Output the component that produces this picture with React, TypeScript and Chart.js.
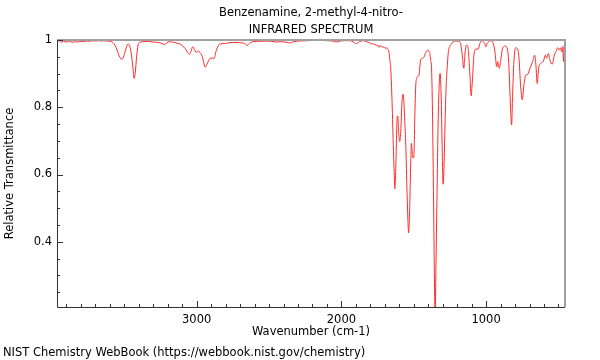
import React, { useEffect, useRef } from "react";
import { Chart, registerables } from "chart.js";

Chart.register(...registerables);

const TITLE_LINES = ["Benzenamine, 2-methyl-4-nitro-", "INFRARED SPECTRUM"];
const X_LABEL = "Wavenumber (cm-1)";
const Y_LABEL = "Relative Transmittance";
const FOOTER = "NIST Chemistry WebBook (https://webbook.nist.gov/chemistry)";

const X_MIN = 455;
const X_MAX = 3965;
const Y_MIN = 0.206;
const Y_MAX = 1.0;
const X_TICKS = [1000, 2000, 3000];
const Y_TICKS = [0.4, 0.6, 0.8, 1];
const X_MINOR_STEP = 100;
const Y_MINOR_STEP = 0.05;

const wavenumbers = [
  3965, 3950, 3935, 3920, 3900, 3880, 3860, 3840, 3820, 3800, 3780, 3760, 3740, 3720, 3700,
  3680, 3660, 3640, 3620, 3600, 3580, 3565, 3550, 3535, 3520, 3510, 3495, 3480, 3472, 3462,
  3450, 3440, 3432, 3425, 3415, 3405, 3395, 3370, 3340, 3300, 3270, 3240, 3223, 3205, 3188,
  3160, 3130, 3110, 3096, 3080, 3065, 3050, 3040, 3027, 3015, 3003, 2990, 2978, 2965, 2952,
  2942, 2930, 2918, 2905, 2890, 2880, 2865, 2850, 2840, 2800, 2750, 2700, 2670, 2653, 2635,
  2612, 2560, 2519, 2480, 2450, 2420, 2380, 2358, 2330, 2289, 2240, 2173, 2100, 2060, 2035,
  2010, 1970, 1943, 1920, 1896, 1875, 1851, 1830, 1815, 1804, 1790, 1780, 1770, 1762, 1755,
  1748, 1740, 1732, 1723, 1715, 1705, 1698, 1689, 1680, 1673, 1665, 1659, 1650, 1640, 1634,
  1631, 1627, 1624, 1615, 1610, 1606, 1603, 1597, 1593, 1590, 1581, 1574, 1567, 1562, 1555,
  1546, 1540, 1536, 1531, 1527, 1520, 1516, 1512, 1507, 1500, 1496, 1493, 1486, 1480, 1474,
  1463, 1458, 1453, 1439, 1428, 1420, 1412, 1401, 1395, 1389, 1383, 1377, 1370, 1363, 1356,
  1352, 1347, 1340, 1331, 1322, 1318, 1311, 1304, 1297, 1290, 1283, 1276, 1270, 1262, 1250,
  1240, 1216, 1193, 1177, 1168, 1163, 1154, 1150, 1147, 1136, 1124, 1118, 1112, 1103, 1098,
  1094, 1084, 1071, 1055, 1043, 1031, 1020, 1010, 1001, 993, 985, 974, 955, 945, 939,
  927, 920, 909, 900, 889, 870, 852, 845, 840, 831, 824, 817, 808, 796, 785,
  773, 762, 750, 739, 725, 713, 697, 679, 665, 656, 647, 637, 623, 605, 591,
  582, 570, 559, 543, 529, 517, 506, 495, 485, 478, 471, 467, 464, 460, 456,
];

const transmittance = [
  0.995, 0.998, 0.993, 0.996, 0.994, 0.997, 0.993, 0.995, 0.994, 0.996, 0.995, 0.997, 0.996, 0.998, 0.997,
  0.998, 0.997, 0.998, 0.997, 0.996, 0.993, 0.985, 0.97, 0.952, 0.943, 0.945, 0.965, 0.985, 0.988, 0.982,
  0.955, 0.915, 0.886, 0.9, 0.95, 0.985, 0.993, 0.995, 0.996, 0.994, 0.993, 0.99, 0.986, 0.992, 0.995,
  0.993, 0.99, 0.987, 0.982, 0.975, 0.965, 0.957, 0.965, 0.98, 0.972, 0.963, 0.968, 0.962, 0.955, 0.935,
  0.919, 0.927, 0.938, 0.946, 0.946, 0.945, 0.968, 0.983, 0.988, 0.99, 0.993, 0.992, 0.99, 0.984, 0.99,
  0.995, 0.996, 0.997, 0.996, 0.994, 0.995, 0.993, 0.991, 0.995, 0.997, 0.998, 0.999, 0.998, 0.997, 0.994,
  0.997, 0.998, 0.998, 0.995, 0.989, 0.995, 0.998, 0.996, 0.993, 0.992, 0.988, 0.99, 0.985, 0.987, 0.982,
  0.985, 0.978, 0.983, 0.982, 0.978, 0.98, 0.975, 0.977, 0.972, 0.968, 0.94, 0.915, 0.817, 0.668, 0.59,
  0.557, 0.58, 0.619, 0.767, 0.774, 0.74, 0.718, 0.698, 0.71, 0.727, 0.817, 0.839, 0.807, 0.76, 0.688,
  0.54, 0.46, 0.426, 0.46, 0.519, 0.648, 0.693, 0.675, 0.65, 0.65, 0.7, 0.767, 0.866, 0.885, 0.891,
  0.896, 0.92, 0.94, 0.946, 0.95, 0.96, 0.967, 0.97, 0.966, 0.96, 0.94, 0.916, 0.767, 0.519, 0.25,
  0.18, 0.322, 0.519, 0.767, 0.886, 0.901, 0.837, 0.688, 0.571, 0.638, 0.767, 0.866, 0.91, 0.96, 0.982,
  0.988, 0.997, 0.997, 0.99, 0.965, 0.946, 0.916, 0.935, 0.955, 0.985, 0.975, 0.94, 0.896, 0.834, 0.86,
  0.886, 0.955, 0.973, 0.973, 0.99, 0.998, 0.995, 0.99, 0.98, 0.99, 0.993, 0.998, 0.995, 0.98, 0.965,
  0.921, 0.936, 0.916, 0.936, 0.97, 0.982, 0.97, 0.94, 0.896, 0.797, 0.747, 0.837, 0.936, 0.977, 0.975,
  0.946, 0.866, 0.822, 0.866, 0.896, 0.898, 0.916, 0.936, 0.955, 0.926, 0.871, 0.916, 0.931, 0.936, 0.955,
  0.946, 0.96, 0.94, 0.928, 0.955, 0.965, 0.977, 0.97, 0.977, 0.965, 0.98, 0.95, 0.936, 0.985, 0.96,
];

const FONT_FAMILY = "'DejaVu Sans', sans-serif";
const FONT_SIZE = 11.5;

const decorPlugin = {
  id: "decor",
  afterDraw(chart: any) {
    const { ctx, chartArea: a } = chart;
    const xs = chart.scales.x;
    const ys = chart.scales.y;
    ctx.save();

    // top and right frame (gray)
    ctx.strokeStyle = "#a0a0a0";
    ctx.lineWidth = 2;
    ctx.beginPath();
    ctx.moveTo(a.left, a.top);
    ctx.lineTo(a.right, a.top);
    ctx.lineTo(a.right, a.bottom);
    ctx.stroke();

    // left and bottom axes (dark)
    ctx.strokeStyle = "#333333";
    ctx.lineWidth = 1;
    ctx.beginPath();
    ctx.moveTo(a.left + 0.5, a.top);
    ctx.lineTo(a.left + 0.5, a.bottom + 0.5);
    ctx.lineTo(a.right, a.bottom + 0.5);
    ctx.stroke();

    // x ticks (inside)
    ctx.beginPath();
    const xStart = Math.ceil(xs.min / X_MINOR_STEP);
    const xEnd = Math.floor(xs.max / X_MINOR_STEP);
    for (let k = xStart; k <= xEnd; k++) {
      const v = k * X_MINOR_STEP;
      const px = Math.round(xs.getPixelForValue(v)) + 0.5;
      const major = X_TICKS.includes(v);
      ctx.moveTo(px, a.bottom);
      ctx.lineTo(px, a.bottom - (major ? 6 : 3));
    }
    // y ticks (inside)
    const yStart = Math.ceil(ys.min / Y_MINOR_STEP - 1e-9);
    const yEnd = Math.floor(ys.max / Y_MINOR_STEP + 1e-9);
    for (let k = yStart; k <= yEnd; k++) {
      const v = k * Y_MINOR_STEP;
      const py = Math.round(ys.getPixelForValue(v)) + 0.5;
      const major = Y_TICKS.some((t) => Math.abs(t - v) < 1e-6);
      ctx.moveTo(a.left, py);
      ctx.lineTo(a.left + (major ? 6 : 3), py);
    }
    ctx.stroke();

    // texts
    ctx.fillStyle = "#000";
    ctx.font = `${FONT_SIZE}px ${FONT_FAMILY}`;
    ctx.textBaseline = "middle";
    ctx.textAlign = "center";
    const cx = (a.left + a.right) / 2;
    ctx.fillText(TITLE_LINES[0], cx, 13);
    ctx.fillText(TITLE_LINES[1], cx, 30);
    ctx.fillText(X_LABEL, cx, 332);

    ctx.save();
    ctx.translate(10, (a.top + a.bottom) / 2);
    ctx.rotate(-Math.PI / 2);
    ctx.fillText(Y_LABEL, 0, 0);
    ctx.restore();

    ctx.textAlign = "left";
    ctx.fillText(FOOTER, 3, 353);
    ctx.restore();
  },
};

export default function App() {
  const canvasRef = useRef<HTMLCanvasElement | null>(null);

  useEffect(() => {
    const canvas = canvasRef.current;
    if (!canvas) return;
    const points = wavenumbers.map((w, i) => ({ x: w, y: transmittance[i] }));
    const chart = new Chart(canvas, {
      type: "line",
      data: {
        datasets: [
          {
            data: points,
            borderColor: "#ff2a2a",
            borderWidth: 1,
            pointRadius: 0,
            fill: false,
            cubicInterpolationMode: "monotone",
          },
        ],
      },
      options: {
        responsive: false,
        animation: false,
        devicePixelRatio: 1,
        layout: { padding: { left: 0, top: 40, right: 35, bottom: 0 } },
        plugins: {
          legend: { display: false },
          tooltip: { enabled: false },
          title: { display: false },
        },
        scales: {
          x: {
            type: "linear",
            reverse: true,
            min: X_MIN,
            max: X_MAX,
            grid: { display: false, drawTicks: false },
            border: { display: false },
            afterBuildTicks: (s: any) => {
              s.ticks = X_TICKS.map((v) => ({ value: v }));
            },
            afterFit: (s: any) => {
              s.height = 53;
            },
            ticks: {
              padding: 6,
              maxRotation: 0,
              color: "#000",
              font: { family: FONT_FAMILY, size: FONT_SIZE },
              callback: (v: any) => String(v),
            },
          },
          y: {
            type: "linear",
            min: Y_MIN,
            max: Y_MAX,
            grid: { display: false, drawTicks: false },
            border: { display: false },
            afterBuildTicks: (s: any) => {
              s.ticks = Y_TICKS.map((v) => ({ value: v }));
            },
            afterFit: (s: any) => {
              s.width = 57;
            },
            ticks: {
              padding: 5,
              color: "#000",
              font: { family: FONT_FAMILY, size: FONT_SIZE },
              callback: (v: any) => String(Math.round(v * 10) / 10),
            },
          },
        },
      },
      plugins: [decorPlugin],
    });
    return () => chart.destroy();
  }, []);

  return (
    <div style={{ position: "absolute", left: 0, top: 0, width: 600, height: 360, background: "#fff" }}>
      <canvas ref={canvasRef} width={600} height={360} style={{ display: "block", width: 600, height: 360 }} />
    </div>
  );
}
